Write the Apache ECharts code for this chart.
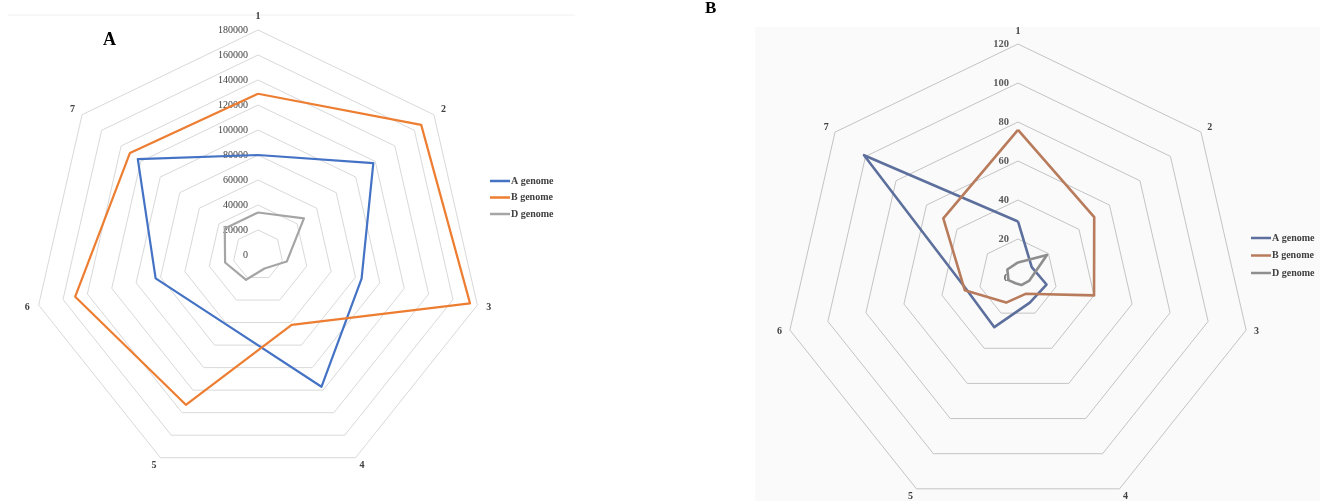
<!DOCTYPE html>
<html>
<head>
<meta charset="utf-8">
<script src="https://cdn.jsdelivr.net/npm/echarts/dist/echarts.min.js"></script>
<style>
  html, body { margin: 0; padding: 0; background: #ffffff; }
  #chart { width: 1320px; height: 501px; }
</style>
</head>
<body>
<div id="chart"></div>
<script>
// Axis names, clockwise from the top
const axisNames = ['1', '2', '3', '4', '5', '6', '7'];
const seriesNames = ['A genome', 'B genome', 'D genome'];

// Panel A values (axes 1..7)
const panelA_Agenome = [80000, 118000, 85000, 117000, 61000, 84000, 123000];
const panelA_Bgenome = [129000, 167000, 174000, 62000, 133000, 150000, 131000];
const panelA_Dgenome = [34000, 47000, 23600, 12000, 22000, 27000, 34000];
const panelA_max = 180000;
const panelA_splits = 9;

// Panel B values (axes 1..7)
const panelB_Agenome = [29, 9, 15, 14, 28, 27, 101];
const panelB_Bgenome = [76, 50, 40, 9, 14, 28, 49];
const panelB_Dgenome = [8, 19, 6, 4, 3, 5, 7];
const panelB_max = 120;
const panelB_splits = 6;

const colorsA = ['#4472C4', '#ED7D31', '#A5A5A5'];
const colorsB = ['#5D6F9C', '#B87B5C', '#8E8E8E'];

const serif = '"Liberation Serif", "DejaVu Serif", serif';

// ECharts lays radar indicators out counter-clockwise; reorder so 1..7 run clockwise
function clockwise(arr) {
  return [arr[0]].concat(arr.slice(1).reverse());
}

function indicators(max) {
  return clockwise(axisNames).map(function (n, i) {
    return {
      name: n, min: 0, max: max,
      axisLabel: { show: i === 0 }
    };
  });
}

function radarCfg(center, radius, max, splits, gridColor, labelFont, nameGap) {
  return {
    center: center,
    radius: radius,
    startAngle: 90,
    shape: 'polygon',
    splitNumber: splits,
    indicator: indicators(max),
    axisName: {
      color: '#404040', fontFamily: serif, fontWeight: 'bold', fontSize: 10
    },
    nameGap: nameGap,
    axisLine: { show: false },
    axisTick: { show: false },
    splitArea: { show: false },
    splitLine: { lineStyle: { color: gridColor, width: 1 } },
    axisLabel: {
      show: false,
      color: labelFont.color,
      fontFamily: serif,
      fontSize: labelFont.size,
      fontWeight: labelFont.weight,
      margin: labelFont.margin,
      showMinLabel: true,
      showMaxLabel: true,
      formatter: function (v) { return String(v); }
    }
  };
}

function radarSeries(radarIndex, values, colors, width) {
  return {
    type: 'radar',
    radarIndex: radarIndex,
    symbol: 'none',
    silent: true,
    data: values.map(function (v, i) {
      return {
        name: seriesNames[i],
        value: clockwise(v),
        lineStyle: { color: colors[i], width: width },
        itemStyle: { color: colors[i] }
      };
    })
  };
}

function legendCfg(left, top, colors, gap) {
  return {
    orient: 'vertical',
    left: left,
    top: top,
    padding: 0,
    icon: 'rect',
    itemWidth: 20,
    itemHeight: 2.5,
    itemGap: gap,
    selectedMode: false,
    textStyle: {
      color: '#404040', fontFamily: serif, fontWeight: 'bold', fontSize: 10,
      padding: [0, 0, 0, -4]
    },
    data: seriesNames.map(function (n, i) {
      return { name: n, itemStyle: { color: colors[i] } };
    })
  };
}

const chart = echarts.init(document.getElementById('chart'), null, { renderer: 'canvas' });

chart.setOption({
  backgroundColor: '#ffffff',
  animation: false,
  graphic: [
    { type: 'rect', z: -10, shape: { x: 755, y: 27, width: 565, height: 474 },
      style: { fill: '#fafafa' } },
    { type: 'line', z: -10, shape: { x1: 8, y1: 15, x2: 575, y2: 15 },
      style: { stroke: '#f0f0f0', lineWidth: 1 } },
    { type: 'text', left: 103, top: 31,
      style: { text: 'A', font: 'bold 18px ' + serif, fill: '#000' } },
    { type: 'text', left: 705, top: 0,
      style: { text: 'B', font: 'bold 17px ' + serif, fill: '#000' } }
  ],
  legend: [
    legendCfg(490, 176, colorsA, 6.5),
    legendCfg(1251, 233, colorsB, 7.5)
  ],
  radar: [
    radarCfg([258, 255], 225, panelA_max, panelA_splits, '#d9d9d9',
      { color: '#404040', size: 10, weight: 'normal', margin: 10 }, 9),
    radarCfg([1018, 278], 234, panelB_max, panelB_splits, '#c4c4c4',
      { color: '#595959', size: 10.5, weight: 'bold', margin: 9 }, 8)
  ],
  series: [
    radarSeries(0, [panelA_Agenome, panelA_Bgenome, panelA_Dgenome], colorsA, 2.2),
    radarSeries(1, [panelB_Agenome, panelB_Bgenome, panelB_Dgenome], colorsB, 2.6)
  ]
});
</script>
</body>
</html>
